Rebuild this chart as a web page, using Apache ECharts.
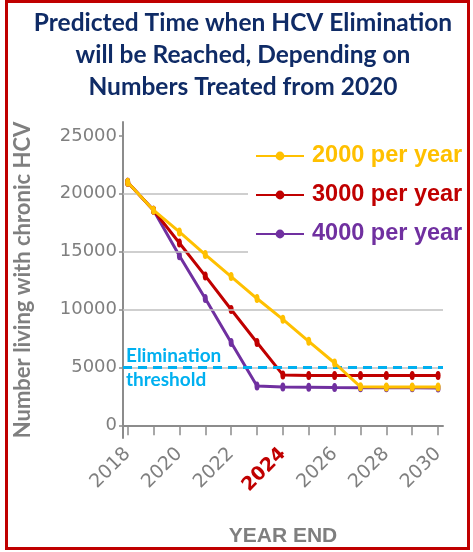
<!DOCTYPE html>
<html>
<head>
<meta charset="utf-8">
<script src="https://cdn.jsdelivr.net/npm/echarts@6/dist/echarts.min.js"></script>
<style>
  html, body { margin: 0; padding: 0; background: #fff; }
  #chart { width: 473px; height: 552px; }
</style>
</head>
<body>
<div id="chart"></div>
<script>
// years on the x axis (year end)
const years = [2018, 2019, 2020, 2021, 2022, 2023, 2024, 2025, 2026, 2027, 2028, 2029, 2030];
const yearLabels = [2018, 2020, 2022, 2024, 2026, 2028, 2030];
const highlightYear = 2024;

// number living with chronic HCV, by treatment rate
const perYear2000 = [21000, 18580, 16700, 14750, 12850, 10950, 9150, 7250, 5380, 3320, 3300, 3300, 3300];
const perYear3000 = [21000, 18580, 15750, 12900, 10000, 7150, 4350, 4300, 4300, 4300, 4300, 4300, 4300];
const perYear4000 = [21000, 18580, 14650, 10950, 7150, 3400, 3300, 3280, 3260, 3250, 3250, 3240, 3230];

const seriesNames = ['2000 per year', '3000 per year', '4000 per year'];
const seriesColors = ['#FFC000', '#C00000', '#7030A0'];

const yTicks = [0, 5000, 10000, 15000, 20000, 25000];
const gridValues = [5000, 10000, 15000, 20000];
const thresholdValue = 5000;

const pairs = arr => years.map((y, i) => [y, arr[i]]);

var dom = document.getElementById('chart');
var myChart = echarts.init(dom, null, { renderer: 'canvas' });

const gray = '#7F7F7F';

function lineSeries(name, values, color, z) {
  return {
    name: name,
    type: 'line',
    data: pairs(values),
    z: z,
    symbol: 'circle',
    symbolSize: [5, 9],
    lineStyle: { color: color, width: 3 },
    itemStyle: { color: color },
    emphasis: { disabled: true }
  };
}

var option = {
  animation: false,
  title: {
    text: 'Predicted Time when HCV Elimination\nwill be Reached, Depending on\nNumbers Treated from 2020',
    left: 238,
    top: 2,
    textAlign: 'center',
    textStyle: {
      fontFamily: 'Lato',
      fontWeight: 'bold',
      fontSize: 24.5,
      lineHeight: 32,
      color: '#0F2B66'
    }
  },
  graphic: [
    {
      type: 'rect',
      z: 10,
      shape: { x: 6.5, y: 1.5, width: 462, height: 547 },
      style: { fill: 'none', stroke: '#C00000', lineWidth: 3 },
      silent: true
    }
  ],
  legend: {
    orient: 'vertical',
    left: 248,
    top: 132,
    padding: [11, 2, 12, 7],
    backgroundColor: '#fff',
    z: 6,
    itemWidth: 48,
    itemHeight: 11,
    itemGap: 13,
    selectedMode: false,
    data: seriesNames.map((n, i) => ({
      name: n,
      textStyle: {
        color: seriesColors[i],
        fontFamily: 'Liberation Sans',
        fontWeight: 'bold',
        fontSize: 23.5,
        lineHeight: 26,
        padding: [0, 0, 0, 3]
      }
    }))
  },
  grid: { left: 123, right: 30, top: 122, bottom: 111 },
  xAxis: {
    type: 'value',
    min: 2017.82,
    max: 2030.19,
    name: 'YEAR END',
    nameLocation: 'middle',
    nameGap: 88,
    nameTextStyle: { color: gray, fontFamily: 'Liberation Sans', fontWeight: 'bold', fontSize: 21 },
    splitLine: { show: false },
    axisLine: { lineStyle: { color: '#8C8C8C', width: 2 } },
    axisTick: { customValues: years, length: 10, lineStyle: { color: '#8C8C8C', width: 1.5 } },
    axisLabel: {
      customValues: yearLabels,
      rotate: 45,
      margin: 13,
      color: gray,
      fontFamily: 'DejaVu Sans',
      fontSize: 19,
      formatter: v => v === highlightYear ? '{hl|' + v + '}' : String(v),
      rich: {
        hl: { color: '#C00000', fontWeight: 'bold', fontFamily: 'DejaVu Sans', fontSize: 19 }
      }
    }
  },
  yAxis: {
    type: 'value',
    min: -1100,
    max: 26200,
    name: 'Number living with chronic HCV',
    nameLocation: 'middle',
    nameGap: 89,
    nameTextStyle: { color: gray, fontFamily: 'Lato', fontWeight: 'bold', fontSize: 22 },
    splitLine: { show: false },
    axisLine: { show: true, lineStyle: { color: '#8C8C8C', width: 2 } },
    axisTick: { show: true, customValues: yTicks, length: 4, lineStyle: { color: '#8C8C8C', width: 1.5 } },
    axisLabel: {
      customValues: yTicks,
      margin: 6,
      color: gray,
      fontFamily: 'DejaVu Sans',
      fontSize: 18,
      formatter: v => String(v)
    }
  },
  series: [
    {
      name: 'grid',
      type: 'line',
      data: [],
      z: 1,
      silent: true,
      markLine: {
        silent: true,
        symbol: ['none', 'none'],
        animation: false,
        data: gridValues.map(v => ({
          yAxis: v,
          lineStyle: { color: '#BFBFBF', width: 1.5, type: 'solid' },
          label: { show: false }
        })).concat([
          {
            yAxis: thresholdValue,
            lineStyle: { color: '#00B0F0', width: 3, type: [9, 6] },
            label: {
              show: true,
              position: 'insideStartTop',
              distance: [3, 2],
              formatter: 'Elimination',
              color: '#00B0F0',
              fontFamily: 'Lato',
              fontWeight: 'bold',
              fontSize: 19
            }
          },
          {
            yAxis: thresholdValue,
            lineStyle: { color: '#00B0F0', width: 3, type: [9, 6] },
            label: {
              show: true,
              position: 'insideStartBottom',
              distance: [3, 3],
              formatter: 'threshold',
              color: '#00B0F0',
              fontFamily: 'Lato',
              fontWeight: 'bold',
              fontSize: 19
            }
          }
        ])
      }
    },
    lineSeries(seriesNames[0], perYear2000, seriesColors[0], 5),
    lineSeries(seriesNames[1], perYear3000, seriesColors[1], 4),
    lineSeries(seriesNames[2], perYear4000, seriesColors[2], 3)
  ]
};

myChart.setOption(option);
window.addEventListener('resize', myChart.resize);
</script>
</body>
</html>
